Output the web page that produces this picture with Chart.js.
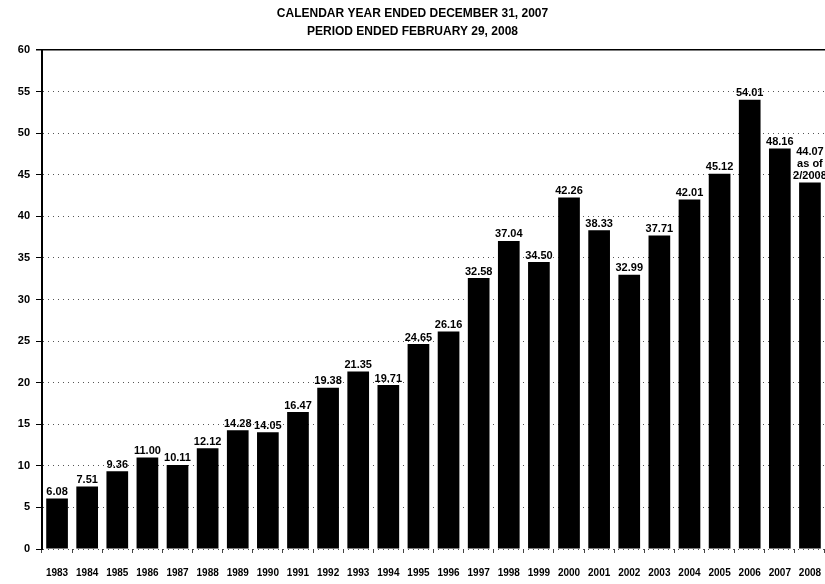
<!DOCTYPE html>
<html>
<head>
<meta charset="utf-8">
<script src="https://cdn.jsdelivr.net/npm/chart.js@4/dist/chart.umd.min.js"></script>
<style>
  html, body { margin: 0; padding: 0; background: #fff; }
  #wrap { width: 825px; height: 584px; }
</style>
</head>
<body>
<div id="wrap"><canvas id="priceChart"></canvas></div>
<script>
const FONT = "'Liberation Sans Narrow', 'Liberation Sans', Arial, sans-serif";

const titleLines = ['CALENDAR YEAR ENDED DECEMBER 31, 2007', 'PERIOD ENDED FEBRUARY 29, 2008'];
const years = ['1983', '1984', '1985', '1986', '1987', '1988', '1989', '1990', '1991', '1992', '1993', '1994', '1995',
               '1996', '1997', '1998', '1999', '2000', '2001', '2002', '2003', '2004', '2005', '2006', '2007', '2008'];
const prices = [6.08, 7.51, 9.36, 11.00, 10.11, 12.12, 14.28, 14.05, 16.47, 19.38, 21.35, 19.71, 24.65,
                26.16, 32.58, 37.04, 34.50, 42.26, 38.33, 32.99, 37.71, 42.01, 45.12, 54.01, 48.16, 44.07];
const priceLabels = ['6.08', '7.51', '9.36', '11.00', '10.11', '12.12', '14.28', '14.05', '16.47', '19.38', '21.35', '19.71', '24.65',
                     '26.16', '32.58', '37.04', '34.50', '42.26', '38.33', '32.99', '37.71', '42.01', '45.12', '54.01', '48.16',
                     ['44.07', 'as of', '2/2008']];
const yTicks = [0, 5, 10, 15, 20, 25, 30, 35, 40, 45, 50, 55, 60];

// draws the value above each bar
const barLabels = {
    id: 'barLabels',
    afterDatasetsDraw(chart) {
        const ctx = chart.ctx;
        const meta = chart.getDatasetMeta(0);
        ctx.save();
        ctx.fillStyle = '#000';
        ctx.font = 'bold 11px ' + FONT;
        ctx.textAlign = 'center';
        ctx.textBaseline = 'bottom';
        meta.data.forEach((bar, i) => {
            const lbl = priceLabels[i];
            const lines = Array.isArray(lbl) ? lbl : [lbl];
            lines.slice().reverse().forEach((line, j) => {
                ctx.fillText(line, bar.x, bar.y - 1 - j * 12);
            });
        });
        ctx.restore();
    }
};

const ctx = document.getElementById('priceChart').getContext('2d');
new Chart(ctx, {
    type: 'bar',
    data: {
        labels: years,
        datasets: [{
            data: prices,
            backgroundColor: '#000',
            borderWidth: 0,
            barPercentage: 0.72,
            categoryPercentage: 1
        }]
    },
    options: {
        responsive: true,
        maintainAspectRatio: false,
        animation: false,
        layout: { padding: { left: 0, right: 0, top: 0, bottom: 3 } },
        plugins: {
            legend: { display: false },
            tooltip: { enabled: false },
            title: {
                display: true,
                text: titleLines,
                color: '#000',
                font: { family: FONT, size: 12, weight: 'bold', lineHeight: 1.5 },
                padding: { top: 5, bottom: 9 }
            }
        },
        scales: {
            y: {
                min: 0,
                max: 60,
                afterBuildTicks: scale => { scale.ticks = yTicks.map(v => ({ value: v })); },
                afterFit: scale => { scale.width = 42; },
                ticks: {
                    color: '#000',
                    padding: 6,
                    font: { family: FONT, size: 11, weight: 'bold' }
                },
                grid: {
                    color: c => c.tick && c.tick.value === 60 ? '#000' : '#555',
                    lineWidth: c => c.tick && c.tick.value === 60 ? 1.5 : 1,
                    tickColor: '#000',
                    tickLength: 6
                },
                border: {
                    display: true,
                    color: '#000',
                    width: 2,
                    dash: c => c.tick && (c.tick.value === 60) ? [] : [1, 4]
                }
            },
            x: {
                offset: true,
                // the original is cropped on the right, so the plot runs to the edge
                afterFit: scale => {
                    scale.height = 32;
                    scale.paddingLeft = 0;
                    scale.paddingRight = 0;
                },
                ticks: {
                    color: '#000',
                    padding: 14,
                    maxRotation: 0,
                    autoSkip: false,
                    font: { family: FONT, size: 10, weight: 'bold' }
                },
                grid: {
                    offset: true,
                    drawOnChartArea: false,
                    drawTicks: true,
                    tickLength: 4,
                    tickColor: '#444'
                },
                border: { display: false }
            }
        }
    },
    plugins: [barLabels]
});
</script>
</body>
</html>
